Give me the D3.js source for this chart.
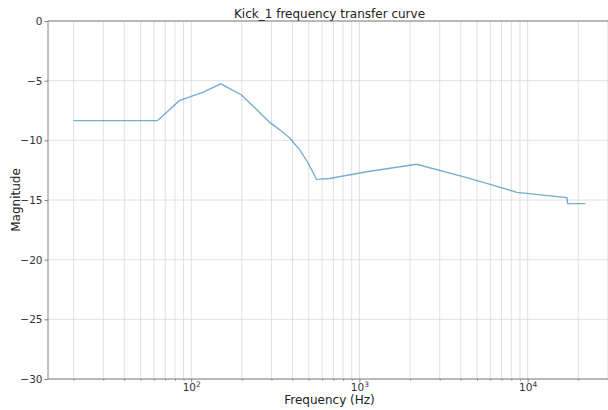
<!DOCTYPE html>
<html>
<head>
<meta charset="utf-8">
<script src="https://cdn.jsdelivr.net/npm/d3@7"></script>
<style>
  html, body { margin: 0; padding: 0; background: #fff; }
  svg { display: block; font-family: "DejaVu Sans", sans-serif; }
</style>
</head>
<body>
<svg id="chart" width="608" height="410"></svg>
<script>
// ---- data ----
const freqs = [20, 63, 85, 117, 150, 199, 233, 262, 293, 336, 386, 442, 496, 556, 665, 1104, 2188, 4345, 5985, 8630, 17100, 17300, 22050];
const magnitudes = [-8.35, -8.35, -6.68, -5.98, -5.27, -6.2, -7.12, -7.84, -8.5, -9.12, -9.82, -10.8, -11.92, -13.27, -13.2, -12.63, -12.01, -13.13, -13.69, -14.36, -14.8, -15.3, -15.3];
const yTicks = [0, -5, -10, -15, -20, -25, -30];
const xMajorTicks = [100, 1000, 10000];
const xMajorExponents = ["2", "3", "4"];
const titleText = "Kick_1 frequency transfer curve";
const xLabelText = "Frequency (Hz)";
const yLabelText = "Magnitude";

(function () {
// ---- layout ----
const svg = d3.select("#chart");
const mLeft = 48, mRight = 611, mTop = 21, mBottom = 379;

const x = d3.scaleLog().domain([14.08, 31300]).range([mLeft, mRight]);
const y = d3.scaleLinear().domain([-30, 0]).range([mBottom, mTop]);

// minor ticks
const minor = [];
for (let d = 10; d <= 10000; d *= 10) {
  for (let k = 2; k <= 9; k++) {
    const v = d * k;
    if (v > x.domain()[0] && v < x.domain()[1]) minor.push(v);
  }
}

const gridColor = "#d8d8d8";
const grid = svg.append("g");
grid.selectAll(".vminor").data(minor).enter().append("line")
  .attr("x1", d => x(d)).attr("x2", d => x(d))
  .attr("y1", mTop).attr("y2", mBottom)
  .attr("stroke", gridColor).attr("stroke-width", 0.8);
grid.selectAll(".vmajor").data(xMajorTicks).enter().append("line")
  .attr("x1", d => x(d)).attr("x2", d => x(d))
  .attr("y1", mTop).attr("y2", mBottom)
  .attr("stroke", gridColor).attr("stroke-width", 0.8);
grid.selectAll(".hmajor").data(yTicks).enter().append("line")
  .attr("x1", mLeft).attr("x2", mRight)
  .attr("y1", d => y(d)).attr("y2", d => y(d))
  .attr("stroke", gridColor).attr("stroke-width", 0.8);

// line
const line = d3.line().x((d, i) => x(freqs[i])).y((d, i) => y(magnitudes[i]));
svg.append("path")
  .datum(magnitudes)
  .attr("d", line)
  .attr("fill", "none")
  .attr("stroke", "#1f77b4")
  .attr("stroke-opacity", 0.6)
  .attr("stroke-width", 1.4);

// spines
const spineColor = "#666";
svg.append("line").attr("x1", mLeft).attr("x2", mLeft).attr("y1", mTop).attr("y2", mBottom)
  .attr("stroke", spineColor).attr("stroke-width", 0.8);
svg.append("line").attr("x1", mLeft).attr("x2", mRight).attr("y1", mBottom).attr("y2", mBottom)
  .attr("stroke", spineColor).attr("stroke-width", 0.8);
svg.append("line").attr("x1", mLeft).attr("x2", mRight).attr("y1", mTop).attr("y2", mTop)
  .attr("stroke", spineColor).attr("stroke-width", 0.8);

// y axis ticks
const yAxis = d3.axisLeft(y).tickValues(yTicks).tickSize(3.5).tickPadding(2)
  .tickFormat(d => d === 0 ? "0" : "\u2212" + Math.abs(d));
const gy = svg.append("g").attr("transform", `translate(${mLeft},0)`).call(yAxis);
gy.select(".domain").remove();
gy.selectAll(".tick line").attr("stroke", spineColor).attr("stroke-width", 0.8);
gy.selectAll(".tick text").attr("font-size", 10.5).attr("fill", "#333")
  .attr("font-family", "DejaVu Sans, sans-serif");

// x axis ticks (major)
const xAxis = d3.axisBottom(x).tickValues(xMajorTicks).tickSize(3.5).tickPadding(3).tickFormat("");
const gx = svg.append("g").attr("transform", `translate(0,${mBottom})`).call(xAxis);
gx.select(".domain").remove();
gx.selectAll(".tick line").attr("stroke", spineColor).attr("stroke-width", 0.8);
gx.selectAll(".tick").each(function(d, i) {
  const t = d3.select(this).append("text")
    .attr("y", 11.5).attr("fill", "#333").attr("text-anchor", "middle")
    .attr("font-size", 10.5).attr("font-family", "DejaVu Sans, sans-serif");
  t.append("tspan").text("10");
  t.append("tspan").attr("dy", -4).attr("font-size", 7.5).text(xMajorExponents[i]);
});
// minor x ticks
const xMinorAxis = d3.axisBottom(x).tickValues(minor).tickSize(2).tickFormat("");
const gxm = svg.append("g").attr("transform", `translate(0,${mBottom})`).call(xMinorAxis);
gxm.select(".domain").remove();
gxm.selectAll(".tick line").attr("stroke", spineColor).attr("stroke-width", 0.6);

// title and labels
svg.append("text").attr("x", (mLeft + mRight) / 2).attr("y", 17.5)
  .attr("text-anchor", "middle").attr("font-size", 12).attr("fill", "#222")
  .text(titleText);
svg.append("text").attr("x", (mLeft + mRight) / 2).attr("y", 403.5)
  .attr("text-anchor", "middle").attr("font-size", 12).attr("fill", "#222")
  .text(xLabelText);
svg.append("text").attr("transform", `translate(19.5,${(mTop + mBottom) / 2}) rotate(-90)`)
  .attr("text-anchor", "middle").attr("font-size", 12).attr("fill", "#222")
  .text(yLabelText);
})();
</script>
</body>
</html>
